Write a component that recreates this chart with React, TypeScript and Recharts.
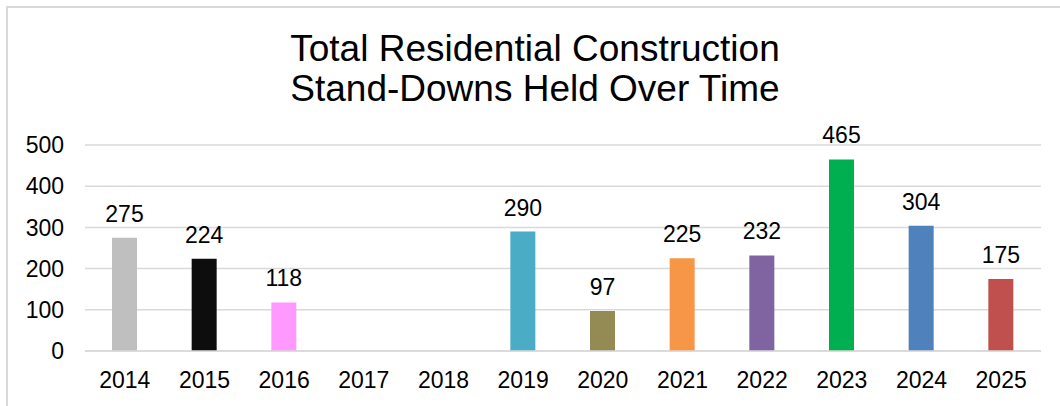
import React from 'react';
import { BarChart, Bar, XAxis, YAxis, CartesianGrid, Cell, LabelList } from 'recharts';

const years = ['2014', '2015', '2016', '2017', '2018', '2019', '2020', '2021', '2022', '2023', '2024', '2025'];
const standDowns: (number | null)[] = [275, 224, 118, null, null, 290, 97, 225, 232, 465, 304, 175];
const barColors = ['#BFBFBF', '#0D0D0D', '#FF99FF', '#BFBFBF', '#BFBFBF', '#4BACC6', '#948A54', '#F79646', '#8064A2', '#00B050', '#4F81BD', '#C0504D'];
const yTicks = [0, 100, 200, 300, 400, 500];

const FONT = '"Liberation Sans", Arial, sans-serif';

const data = years.map((year, i) => ({ year, value: standDowns[i] }));

export default function App() {
  return (
    <div style={{ position: 'absolute', left: 0, top: 0, width: 1060, height: 406, overflow: 'hidden', background: '#fff', fontFamily: FONT }}>
      <div style={{ position: 'absolute', left: 6, top: 6, width: 1080, height: 430, border: '2px solid #d9d9d9', boxSizing: 'border-box' }} />
      <div style={{ position: 'absolute', left: 0, top: 29, width: 1070, textAlign: 'center', fontSize: 37, lineHeight: '40px', color: '#000' }}>
        Total Residential Construction
        <br />
        Stand-Downs Held Over Time
      </div>
      <div style={{ position: 'absolute', left: 0, top: 0 }}>
        <BarChart width={1060} height={406} data={data} margin={{ top: 145, right: 19, bottom: 25, left: 0 }}>
          <CartesianGrid vertical={false} stroke="#d9d9d9" strokeWidth={1.5} />
          <XAxis
            dataKey="year"
            height={30}
            axisLine={{ stroke: '#d9d9d9', strokeWidth: 1.5 }}
            tickLine={false}
            tickSize={0}
            tickMargin={21}
            tick={{ fill: '#000', fontSize: 23, fontFamily: FONT }}
            interval={0}
          />
          <YAxis
            width={85}
            domain={[0, 500]}
            ticks={yTicks}
            axisLine={false}
            tickLine={false}
            tickSize={0}
            tickMargin={21}
            tick={{ fill: '#000', fontSize: 23, fontFamily: FONT }}
          />
          <Bar dataKey="value" barSize={25} isAnimationActive={false}>
            {data.map((d, i) => (
              <Cell key={`cell-${i}`} fill={barColors[i]} />
            ))}
            <LabelList
              dataKey="value"
              position="top"
              offset={16}
              fill="#000"
              fontSize={23}
              fontFamily={FONT}
              formatter={(v: any) => (v == null ? '' : v)}
            />
          </Bar>
        </BarChart>
      </div>
    </div>
  );
}
